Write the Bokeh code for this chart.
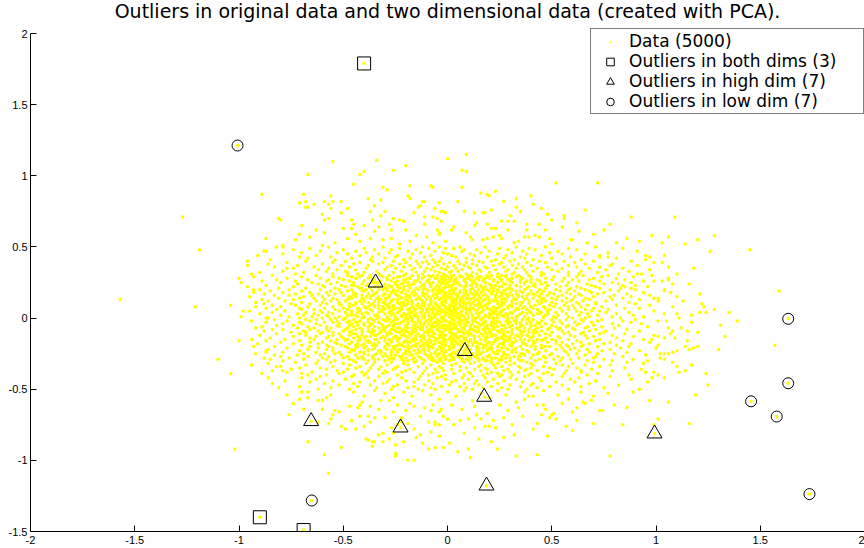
from bokeh.plotting import figure
from bokeh.models import FixedTicker, Legend, LegendItem, ColumnDataSource, Label
from bokeh.embed import file_html
from bokeh.resources import INLINE

# ---------------- data ----------------
# Cloud, row by row: y (hundredths) -> list of x (hundredths)
cloud_rows = {
    50: [-12, 33, -57, 6, -31, 71, -4, 18, -82, 47],
    49: [25, -40, -9, 58, -66, 3, -23, 39, -1, 84],
    48: [-35, 14, -74, 29, -15, 62, -50, 8, 42, -27],
    47: [7, -61, 36, -19, 91, -44, 20, -6, 53, -88],
    46: [-28, 49, -2, -70, 16, -39, 77, 31, -13, -53],
    45: [38, -17, -48, 11, 66, -79, 24, -33, 0, 55],
    44: [-63, 2, 28, -24, 45, -8, -91, 73, 13, -42],
    43: [19, -36, -11, 59, -56, 35, 4, -25, 97, -71],
    42: [-46, 27, -3, 81, -30, 9, -67, 50, -18, 37],
    41: [12, -54, 41, -21, 64, -7, 23, -85, 32, -37],
    40: [-15, 30, -49, 5, 70, -26, 15, -68, 44, -4, 88, -36, 21, -10, 56],
    39: [26, -42, -6, 61, -20, 9, -77, 38, 1, -31, 103, -55, 17, 47, -12],
    38: [-33, 12, -60, 34, -2, 79, -23, 52, -45, 6, -14, 25, -86, 66, -9],
    37: [40, -18, -51, 22, 3, -38, 91, -72, 14, -5, 58, 31, -27, -96, 8],
    36: [-7, 48, -29, 18, -64, 73, -13, 0, 36, -47, 27, -21, 62, -83, 10],
    35: [19, -39, 55, -10, 84, -57, 4, -25, 33, -3, 68, -74, 43, -16, 11],
    34: [-44, 23, -1, 50, -30, 7, -17, 97, -62, 37, -8, 15, -53, 76, 29],
    33: [5, -22, 64, -49, 28, -11, 41, -79, 16, -34, 2, 87, -6, 53, -58],
    32: [-26, 45, -69, 12, -4, 32, -40, 72, 20, -15, -90, 58, 1, 38, -48],
    31: [31, -12, 9, -55, 63, -33, 24, -2, 82, -20, 46, -73, 14, -43, 110],
    30: [-5, 21, -37, 58, 2, -63, 34, -17, 77, -28, 10, -48, 45, -9, 26, -84, 65, -21, 6, 39, -1, 98],
    29: [16, -42, 51, -14, 28, -70, 7, -31, 89, -3, 40, -55, 19, 62, -24, -8, 33, -93, 12, 74, -46, 0],
    28: [-19, 36, -52, 4, 70, -26, 14, -77, 47, -6, 25, -38, 106, -12, 56, -61, 9, 31, -2, -44, 81, 18],
    27: [29, -9, 60, -35, 11, -67, 43, -21, 1, 85, -50, 22, -3, 35, -82, 68, -29, 15, -14, 50, -57, 4],
    26: [-40, 8, 26, -16, 73, -58, 38, -2, 17, -32, 94, -73, 55, -10, 30, -47, 3, 63, -24, 12, -89, 44],
    25: [13, -53, 47, -7, 31, -25, 79, -65, 5, -36, 24, -13, 58, -4, 40, -80, 18, -45, 88, -19, 0, 35],
    24: [-30, 52, -11, 20, -72, 67, -41, 9, -1, 37, -56, 28, -22, 116, -8, 45, -34, 14, -62, 75, 3, -17],
    23: [41, -18, 6, -46, 30, -87, 57, -5, 16, -28, 84, -60, 23, -39, 2, 48, -12, 69, -51, 11, -24, 33],
    22: [-13, 26, -59, 62, -33, 9, -4, 42, -74, 18, -21, 96, -43, 35, 0, -96, 54, -27, 14, 71, -8, -49],
    21: [22, -37, 73, -15, 4, -54, 38, -23, 59, -68, 12, -6, 29, -41, 83, -2, 47, -30, 17, -81, 64, -11],
    20: [-3, 31, -46, 15, -21, 66, -61, 8, -33, 44, -10, 90, -76, 24, -14, 52, -39, 2, 37, -52, 78, -26, 11, -90, 58, -7, 19],
    19: [27, -16, 54, -41, 6, -70, 35, -5, 82, -29, 13, -56, 46, -19, 1, 68, -36, 22, -85, 40, -9, 61, -48, 17, -24, 104, -2],
    18: [-22, 43, -58, 11, 75, -34, 3, -12, 30, -66, 57, -4, 21, -45, 94, -27, 8, 49, -79, 16, -17, 36, -51, 69, -1, 26, -93],
    17: [9, -30, 63, -11, 39, -73, 18, -44, 1, 86, -20, 51, -62, 28, -6, 14, -38, 72, -15, 33, -88, 45, -25, 4, 59, -54, 121],
    16: [-41, 17, -7, 48, -65, 29, -24, 80, -2, 38, -50, 10, -16, 64, -83, 23, 55, -31, 5, -12, 42, -57, 97, -36, 13, -76, 31],
    15: [34, -14, 70, -47, 2, -28, 19, -69, 53, -5, 88, -39, 25, -19, 44, -95, 7, 61, -33, 15, -9, 36, -60, 78, -23, 0, -44],
    14: [-18, 50, -37, 12, -81, 41, -3, 23, -55, 66, -13, 101, -29, 4, 32, -64, 16, -8, 57, -46, 27, -22, 84, -71, 9, -34, 46],
    13: [20, -53, 37, -1, 60, -26, 11, -89, 45, -15, 6, -40, 79, -59, 28, -10, 52, -32, 14, -74, 68, -4, 33, -20, 92, -48, 3],
    12: [-8, 28, -63, 55, -35, 13, -19, 76, -49, 4, 39, -2, -27, 65, -78, 22, -12, 47, -42, 8, 113, -56, 31, -30, 17, -86, 59],
    11: [45, -24, 7, -70, 31, -11, 62, -44, 20, -1, 87, -33, 15, -60, 50, -17, 26, -92, 36, -6, 71, -52, 10, -38, 3, 57, -21],
    10: [-3, 27, -41, 8, -66, 15, -19, 52, -8, 33, -52, 71, -30, 2, -14, 44, -88, 19, -36, 90, -58, 11, -23, 39, 6, -47, 63, -11, 24, -75],
    9: [18, -29, 56, -12, 35, -73, 4, -45, 81, -20, 11, -5, 42, -61, 26, -37, 67, -15, 1, -84, 49, -26, 14, -51, 97, -9, 30, -33, 60, -2],
    8: [-17, 40, -55, 9, -31, 74, -7, 22, -92, 51, -40, 3, 31, -22, 64, -67, 16, -11, 46, -47, 108, -28, 6, 37, -1, -80, 58, -35, 25, -14],
    7: [33, -6, 61, -43, 15, -25, 85, -59, 1, 41, -13, 23, -71, 54, -33, 8, -18, 70, -50, 29, -4, 12, -87, 47, -39, 19, -9, 92, -28, 36],
    6: [-10, 21, -48, 49, -26, 4, -64, 34, -3, 77, -37, 13, -19, 58, -82, 27, -8, 43, -54, 9, 128, -31, 17, -43, 66, -15, 0, -70, 38, -22],
    5: [7, -36, 44, -16, 69, -52, 23, -5, 32, -78, 11, -27, 55, -42, 2, 99, -61, 17, -12, 39, -23, 73, -95, 26, -2, 48, -46, 14, -31, 62],
    4: [-24, 52, -9, 30, -57, 16, -39, 87, -1, 45, -68, 6, -17, 36, -33, 64, -84, 21, -7, 11, -49, 76, -28, 40, -13, 135, -60, 3, 25, -43],
    3: [38, -15, 9, -46, 67, -30, 20, -72, 48, -4, 28, -55, 81, -21, 1, -38, 57, -11, 14, -90, 35, -26, 104, -64, 23, -7, 44, -41, 5, -19],
    2: [-6, 29, -62, 15, -20, 53, -35, 3, 72, -48, 24, -12, 41, -80, 10, -1, 63, -27, 34, -58, 18, -16, 89, -44, 7, -34, 47, -69, 26, -9],
    1: [12, -43, 37, -8, 58, -25, 4, -65, 27, -14, 94, -52, 20, -3, 46, -33, 15, -76, 68, -18, 6, -40, 33, -99, 51, -22, 1, -57, 79, -11],
    0: [-2, 24, -34, 46, -71, 10, -17, 60, -49, 31, -7, 17, -60, 83, -25, 5, -41, 39, -12, 66, -86, 20, -29, 2, 52, -54, 14, -20, 111, -37],
    -1: [29, -19, 50, -56, 8, -31, 74, -9, 36, -45, 16, -68, 3, -24, 57, -2, 41, -83, 22, -14, 90, -38, 12, -50, 64, -28, 6, -63, 33, -5],
    -2: [-13, 39, -47, 18, -4, 65, -29, 7, -77, 45, -21, 28, -10, 84, -53, 13, -35, 54, -1, -66, 32, -17, 101, -42, 22, -8, 72, -94, 3, -26],
    -3: [21, -38, 5, 61, -16, 35, -59, 14, -27, 88, -6, 43, -48, 25, -71, 1, 51, -33, 10, -11, 69, -44, 30, -87, 40, -22, 117, -3, 17, -55],
    -4: [-7, 47, -25, 12, -52, 33, -15, 79, -40, 2, 23, -63, 55, -11, 38, -32, 8, -79, 63, -19, 15, -46, 93, -4, 29, -36, 6, -70, 44, -23],
    -5: [36, -12, 58, -43, 19, -1, 70, -28, 9, -61, 42, -20, 26, -82, 4, -37, 50, -8, 16, -53, 82, -16, 31, -31, 1, -74, 62, -47, 21, -5],
    -6: [-20, 13, -58, 40, -6, 67, -35, 24, -89, 52, -14, 3, 30, -45, 96, -26, 18, -3, 45, -67, 8, -38, 74, -10, 35, -52, 11, -29, 57, 0],
    -7: [4, -33, 49, -17, 28, -72, 15, -8, 60, -42, 37, -24, 80, -56, 7, -13, 43, -92, 22, -30, 11, 66, -48, 1, -19, 33, -64, 54, -2, 106],
    -8: [-27, 26, -5, 53, -49, 17, -36, 86, -12, 34, -66, 2, 42, -21, 12, -79, 61, -9, 22, -44, 71, -1, 39, -58, 8, -31, 48, -16, -84, 18],
    -9: [15, -46, 35, -10, 68, -30, 6, -57, 45, -4, 24, -22, 92, -69, 13, -38, 55, -15, 1, -50, 31, -7, 76, -35, 20, -88, 41, -25, 10, -62],
    -10: [-11, 43, -60, 20, -32, 75, -2, 29, -47, 9, -19, 58, -75, 36, 1, -28, 50, -41, 14, -9, 65, -55, 25, -16, 120, -37, 5, -68, 39, -23],
    -11: [31, -21, 8, -52, 47, -7, 64, -36, 16, -82, 27, -14, 41, -44, 3, 85, -27, 19, -61, 56, -3, 35, -33, 11, -71, 73, -17],
    -12: [-4, 22, -41, 59, -15, 10, -68, 38, -29, 79, -9, 27, -55, 3, 49, -22, 17, -90, 33, -35, 66, -1, 12, -47, 99, -18, 44],
    -13: [19, -57, 34, -11, 4, -37, 70, -25, 15, -3, 53, -74, 26, -43, 89, -8, 41, -20, 7, -63, 30, -31, 61, -13, 21, -51, 2],
    -14: [-32, 54, -6, 29, -50, 13, -19, 81, -66, 40, -2, 24, -40, 8, 67, -85, 18, -26, 47, -12, 35, -58, 5, 104, -23, 32, -45],
    -15: [8, -28, 46, -64, 23, -9, 73, -42, 1, 37, -17, 58, -34, 16, -78, 30, -5, 50, -48, 11, -24, 94, -15, 27, -53, 43, -2],
    -16: [-16, 33, -49, 6, 62, -24, 18, -71, 45, -6, 28, -39, 84, -13, 2, -56, 39, -30, 13, 71, -87, 23, -20, 52, -43, 9, 115],
    -17: [27, -38, 14, -4, 55, -60, 31, -21, 78, -12, 4, -46, 42, -27, 20, -80, 64, -8, 36, -33, 10, -54, 97, -18, 48, -1, -66],
    -18: [-9, 41, -29, 19, -53, 68, -15, 5, -40, 31, -74, 52, -23, 12, 88, -47, 26, -3, 60, -35, 15, -62, 36, -11, 2, 75, -91],
    -19: [12, -24, 57, -44, 30, -7, 81, -58, 21, -16, 3, 45, -36, 65, -70, 9, -28, 38, -2, 17, -51, 101, -19, 27, -41, 54, -12],
    -20: [-35, 18, -13, 49, -66, 35, -4, 24, -49, 72, -21, 7, 42, -30, 58, -83, 14, -9, 31, -57, 87, -17, 1, 47, -26, 64, -43],
    -21: [3, -48, 33, -19, 61, -35, 17, -7, 83, -62, 26, -26, 45, -11, 9, -77, 55, -40, 20, 100, -2, -55],
    -22: [-23, 42, -58, 14, -3, 67, -38, 29, -14, 52, -86, 6, 36, -29, 78, -46, 21, -9, 1, 59, -67, 116],
    -23: [15, -32, 56, -11, 24, -71, 38, -20, 74, -45, 8, -3, 47, -55, 31, -27, 92, -16, 19, -87, 63, -38],
    -24: [-6, 31, -42, 68, -24, 10, -63, 44, -13, 22, -52, 86, -32, 3, 57, -79, 27, -1, 39, -18, 108, -47],
    -25: [24, -15, 50, -54, 4, -30, 80, -40, 16, -8, 35, -69, 62, -21, 12, -92, 43, -34, 27, -4, 72, -59],
    -26: [-27, 9, -61, 37, -10, 58, -44, 20, -83, 49, -2, 29, -35, 95, -18, 5, -51, 66, -25, 14, 41, -72],
    -27: [35, -22, 13, -48, 71, -5, 26, -67, 46, -36, 2, -14, 84, -57, 19, -29, 53, -9, 32, -80, 10, -41],
    -28: [-13, 47, -36, 6, -76, 28, -20, 63, -50, 17, -3, 40, -88, 55, -26, 11, 102, -43, 23, -7, 70, -60],
    -29: [21, -40, 59, -17, 3, -58, 34, -28, 89, -8, 44, -69, 15, -47, 75, -1, 26, -33, 51, -85, 9, -22],
    -30: [-30, 15, -3, 54, -62, 25, -45, 79, -11, 36, -21, 7, 67, -79, 42, -38, 18, -54, 96, -15, 30, -6],
    -31: [8, -35, 47, -16, 70, -56, 21, -5, 38, -73, 13, -27, 86, -44, 28],
    -32: [-21, 40, -63, 11, -2, 60, -39, 24, -12, 94, -50, 32, -86, 52, 4],
    -33: [30, -8, 55, -47, 16, -29, 78, -68, 2, 41, -19, 66, -36, 22, -94],
    -34: [-14, 26, -55, 73, -32, 6, -80, 46, -4, 34, -24, 58, -42, 110, 15],
    -35: [18, -44, 62, -10, 35, -61, 9, -25, 85, -37, 49, -3, 23, -71, 40],
    -36: [-33, 13, -75, 51, -18, 29, -48, 69, -6, 38, -58, 2, 93, -26, 19],
    -37: [43, -20, 6, -53, 79, -38, 27, -11, 57, -84, 16, -30, 37, -2, 64],
    -38: [-5, 34, -41, 64, -65, 21, -16, 48, -29, 99, -50, 10, -77, 30, -22],
    -39: [24, -52, 11, -31, 56, -12, 40, -70, 3, 72, -39, 19, -89, 46, -7],
    -40: [-40, 31, -9, 67, -58, 17, -24, 50, -1, 87, -45, 26, -67, 8, 39],
    -41: [12, -33, 55, -61, 25, -13, 78, -46, 37, -3],
    -42: [-22, 44, -70, 18, -5, 63, -38, 30, -86, 7],
    -43: [33, -14, 59, -49, 10, -28, 88, -63, 22, -1],
    -44: [-9, 27, -55, 71, -35, 4, 45, -20, 14, -78],
    -45: [19, -42, 52, -16, 36, -66, 2, 96, -29, 61],
    -46: [-31, 8, -59, 41, -7, 68, -45, 24, -84, 13],
    -47: [40, -24, 15, -52, 82, -11, 30, -37, 55, 1],
    -48: [-16, 49, -71, 21, -3, 64, -43, 35, -26, 6],
    -49: [26, -56, 9, -34, 75, -19, 43, -81, 17, -8],
    -50: [-27, 38, -6, 58, -47, 12, -62, 29, -14, 92],
}

# Densest centre of the cloud: y (hundredths) -> list of x (hundredths)
cloud_centre = {
    30: [-14, 3, -32, 19, -7, 28, -41, 11], 29: [6, -23, 15, -2, -37, 24, -11, 35],
    28: [-29, 10, -5, 31, -18, 2, -44, 20], 27: [17, -36, -9, 8, 26, -20, 40, -1],
    26: [-4, 22, -27, 13, -47, 1, 30, -15], 25: [-21, 37, 4, -9, 18, -33, 9, -2],
    24: [12, -16, 27, -38, -3, 5, -25, 42], 23: [-8, 1, -30, 21, -19, 33, 14, -45],
    22: [25, -11, 8, -24, 39, -35, -1, 16], 21: [-18, 30, -6, 12, -42, 21, 2, -29],
    20: [3, -31, 17, -12, 28, -4, -21, 44], 19: [-26, 9, -40, 33, -7, 20, -16, 1],
    18: [14, -3, 36, -22, 6, -34, 24, -12], 17: [-35, 21, -10, 3, 41, -25, 12, -5],
    16: [8, -18, 26, -45, 15, -1, -28, 34], 15: [-2, 13, -20, 29, -37, 5, -11, 19],
    14: [23, -30, 1, -14, 38, -6, 10, -41], 13: [-13, 32, -24, 7, -1, 18, -33, 26],
    12: [2, -40, 15, -8, 24, -17, 43, -27], 11: [-22, 6, -3, 35, -31, 12, -12, 20],
    10: [16, -28, 27, -17, 4, -44, 9, -6], 9: [-9, 19, -35, 2, 31, -21, 13, -2],
    8: [29, -13, 7, -26, 17, -4, 40, -38], 7: [-30, 5, -16, 24, -1, 11, -23, 34],
    6: [10, -42, 20, -7, 33, -19, 3, -12], 5: [-18, 26, -4, 14, -32, 39, -10, 1],
    4: [4, -24, 36, -13, 9, -39, 22, -3], 3: [-11, 15, -27, 31, -5, 2, -18, 43],
    2: [21, -35, 6, -9, 27, -22, 12, -46], 1: [-6, 33, -15, 1, -29, 18, -40, 8],
    0: [13, -20, 29, -3, 5, -33, 22, -11], -1: [-25, 9, -8, 38, -17, 2, -36, 16],
    -2: [6, -14, 24, -30, 12, -1, 33, -21], -3: [-33, 18, -5, 9, -19, 29, -43, 1],
    -4: [17, -9, 35, -24, 3, -13, 21, -37], -5: [-2, 27, -16, 11, -40, 6, -26, 40],
    -6: [22, -31, 1, -12, 30, -20, 14, -7], -7: [-15, 8, -38, 19, -4, 34, -23, 3],
    -8: [31, -26, 11, -1, 20, -41, 5, -13], -9: [-20, 14, -8, 27, -32, 1, 37, -17],
    -10: [7, -36, 18, -10, 42, -3, -24, 25], -11: [-29, 2, 31, -18, 10, -45, 21, -6],
    -12: [12, -21, -2, 36, -12, 23, -34, 4], -13: [-7, 28, -39, 13, -25, 6, 39, -15],
    -14: [19, -4, 9, -30, 26, -16, 1, -42], -15: [-24, 35, -11, 3, 16, -35, 24, -1],
    -16: [4, -17, 29, -27, 11, -8, 41, -38], -17: [-37, 13, -3, 22, -19, 32, 7, -10],
    -18: [25, -29, 16, -6, 37, -43, 2, -14], -19: [-10, 6, -22, 30, -1, 18, -34, 10],
    -20: [14, -39, 24, -15, 3, 40, -8, -25], -21: [-3, 21, -30, 9, -18, 28, -44, 15],
    -22: [32, -12, 1, -25, 19, -5, 11, -36], -23: [-19, 10, 38, -33, 5, -9, 25, -1],
    -24: [8, -27, 17, -2, 33, -40, 14, -14], -25: [-32, 23, -11, 2, -20, 12, 36, -6],
    -26: [15, -5, 28, -38, 7, -17, 1, 41], -27: [-8, 34, -23, 11, -1, 20, -31, 5],
    -28: [21, -16, 3, -41, 14, 30, -9, -27], -29: [-26, 7, -12, 25, -35, 2, 17, -4],
    -30: [10, -30, 35, -7, 19, -19, 1, -45],
}

# Sparse outer points of the cloud, (x, y) in hundredths
cloud_tail = [
    (-55, 110), (-34, 111), (-20, 107), (0, 112), (9, 115), (-67, 101), (-42, 101), (-40, 103),
    (-26, 104), (7, 104), (9, 103), (-45, 94), (-18, 93), (-8, 93), (-7, 92), (-31, 92), (-29, 90),
    (7, 92), (52, 95), (72, 95), (16, 88), (19, 87), (20, 86), (23, 89), (-89, 87), (-69, 87),
    (-71, 81), (-68, 82), (-64, 80), (-56, 86), (-55, 82), (-51, 82), (-59, 82), (-38, 84), (-32, 83),
    (-35, 79), (-18, 84), (-19, 86), (-12, 82), (-11, 82), (-68, 78), (-67, 78), (5, 82), (27, 82),
    (33, 84), (33, 78), (40, 86), (41, 80), (-4, 81), (-6, 77), (-3, 75), (-1, 74), (8, 75), (13, 74),
    (17, 74), (18, 74), (21, 76), (45, 77), (56, 72), (56, 70), (109, 71), (-127, 71), (-81, 70),
    (-80, 69), (14, 67), (13, 65), (19, 66), (26, 68), (29, 68), (32, 68), (29, 62), (38, 66), (38, 62),
    (21, 63), (23, 63), (2, 62), (3, 64), (-5, 62), (-4, 60), (9, 60), (11, 57), (12, 55), (17, 55),
    (19, 56), (22, 57), (25, 58), (26, 56), (32, 53), (34, 54), (37, 57), (39, 57), (42, 58), (44, 57),
    (49, 56), (50, 52), (59, 55), (60, 55), (67, 53), (70, 59), (81, 53), (98, 58), (106, 57),
    (128, 58), (114, 52), (-57, 80), (-56, 77), (-60, 73), (-59, 69), (-57, 70), (-51, 74), (-48, 77),
    (-46, 69), (-46, 63), (-50, 63), (-45, 66), (-44, 59), (-40, 65), (-37, 75), (-36, 69), (-35, 61),
    (-33, 64), (-32, 72), (-30, 75), (-28, 66), (-27, 62), (-26, 70), (-23, 69), (-21, 68), (-20, 62),
    (-16, 74), (-14, 78), (-13, 79), (-11, 71), (-11, 66), (-7, 71), (-5, 70), (-3, 68), (-2, 75),
    (-4, 59), (-60, 51), (-54, 53), (-48, 56), (-42, 54), (-37, 56), (-31, 55), (-27, 56), (-23, 52),
    (-18, 54), (-15, 58), (-10, 57), (-7, 53), (-1, 54), (-59, 60), (-63, 62), (-70, 65), (-71, 59),
    (-87, 56), (-79, 51), (-73, 55), (-66, 57), (63, 61), (75, 62), (86, 56), (92, 54), (55, 64),
    (47, 62), (44, 66), (50, 69), (62, 67), (78, 66), (88, 71), (66, 76), (48, 73), (30, 72), (35, 75),
    (120, 55), (103, 53),
    (-119, 48), (-96, 40), (-87, 47), (-79, 50), (-100, 28), (-99, 25), (-94, 31), (-93, 20),
    (-157, 13), (-121, 8), (-104, 9), (-98, 5), (-110, -29), (-100, -16), (-104, -39), (-94, -15),
    (-93, -20), (-87, -24), (-82, -34), (-79, -37), (-87, 0), (-87, -3), (-77, 35),
    (126, 47), (145, 48), (159, 19), (139, -2), (157, -19), (133, -13), (130, -22), (122, 10),
    (123, 8), (121, 4), (124, 4), (131, -5), (118, 35), (104, 44), (106, 36), (95, 44), (95, 41),
    (99, 39), (93, 31), (91, 31), (99, 26), (103, 26), (106, 27), (108, 24), (104, 20), (107, 18),
    (110, 15), (99, 14), (101, 12), (110, 3), (117, 2), (105, -2), (112, -7), (115, -9), (108, -9),
    (107, -11), (109, -14), (101, -13), (98, -15), (120, -20), (118, -21), (114, -20), (110, -23),
    (106, -25), (104, -25), (102, -25), (104, -29), (108, -31), (117, -33), (111, -38), (114, -37),
    (104, -42), (101, -40), (98, -42), (95, -38), (82, 24), (85, 22), (88, 21), (90, 23), (78, 37),
    (73, 43), (77, 43),
    (-77, -54), (-76, -68), (-102, -92), (-67, -87), (-59, -96), (-57, -109), (-71, -57), (-69, -64),
    (-67, -52), (-67, -56), (-62, -58), (-60, -58), (-60, -64), (-62, -73), (-57, -74), (-56, -71),
    (-55, -68), (-54, -65), (-56, -54), (-58, -56), (-52, -66), (-51, -76), (-49, -78), (-51, -91),
    (-44, -78), (-42, -69), (-38, -69), (-35, -70), (-37, -73), (-39, -85), (-38, -86), (-36, -87),
    (-35, -87), (-36, -90), (-33, -82), (-31, -81), (-31, -87), (-28, -85), (-25, -89), (-25, -97),
    (-25, -95), (-19, -100), (-16, -100), (-27, -77), (-24, -75), (-22, -70), (-19, -74), (-15, -84),
    (-13, -82), (-9, -92), (-6, -91), (-2, -91), (1, -88), (-13, -69), (-9, -73), (-6, -73), (-2, -69),
    (-3, -64), (-8, -65), (-7, -61), (-47, -62), (-43, -63), (-41, -59), (-37, -62), (-32, -58),
    (-28, -58), (-24, -61), (-20, -65), (-16, -62),
    (5, -94), (10, -92), (11, -98), (21, -87), (24, -92), (32, -82), (33, -97), (43, -96), (78, -97),
    (60, -79), (57, -76), (41, -78), (36, -69), (43, -74), (51, -67), (49, -70), (73, -65), (65, -59),
    (84, -75), (86, -63), (97, -58), (101, -71), (106, -59), (116, -74), (119, -54), (125, -47),
    (124, -39), (-8, -80), (-6, -75), (-4, -75), (3, -75), (6, -72), (10, -71), (13, -77), (16, -71),
    (18, -76), (20, -76), (23, -77), (89, -52), (99, -75), (74, -65), (66, -60), (60, -66), (52, -71),
    (50, -68), (43, -61), (46, -61), (37, -57), (39, -55),
    (-45, -52), (-40, -55), (-35, -51), (-30, -53), (-26, -56), (-21, -52), (-17, -55), (-12, -51),
    (-8, -54), (-4, -57), (0, -52), (4, -55), (8, -51), (12, -58), (16, -53), (20, -56), (24, -51),
    (28, -54), (33, -59), (37, -52), (41, -55), (46, -51), (53, -54), (58, -57), (64, -52), (70, -55),
    (77, -53), (-42, -61), (-33, -64), (-26, -66), (-18, -60), (-11, -63), (-4, -66), (2, -61), (7, -64),
    (13, -62), (19, -67), (25, -61), (29, -65), (34, -63), (47, -64), (55, -60), (62, -63), (69, -58),
    (80, -61), (-30, -70), (-22, -73), (0, -71), (14, -68), (22, -72), (27, -70), (31, -75), (45, -68),
    (62, -72), (70, -74), (-46, -72), (-40, -76), (-16, -78), (-4, -83), (8, -81), (27, -84), (48, -83),
    (-26, -81), (-21, -87), (15, -85), (-12, -88), (-70, -52), (-74, -60),
]

# Outliers
both_x = [-0.40, -0.90, -0.69]
both_y = [1.79, -1.40, -1.49]
high_x = [-0.345, 0.083, 0.176, -0.225, -0.654, 0.993, 0.187]
high_y = [0.249, -0.232, -0.554, -0.770, -0.725, -0.812, -1.178]
low_x = [-1.007, 1.634, 1.634, 1.456, 1.579, 1.736, -0.651]
low_y = [1.213, -0.005, -0.458, -0.585, -0.692, -1.237, -1.282]

x_ticks = [-2, -1.5, -1, -0.5, 0, 0.5, 1, 1.5, 2]
y_ticks = [-1.5, -1, -0.5, 0, 0.5, 1, 1.5, 2]
tick_text = {-2: "-2", -1.5: "-1.5", -1: "-1", -0.5: "-0.5", 0: "0",
             0.5: "0.5", 1: "1", 1.5: "1.5", 2: "2"}

title_text = "Outliers in original data and two dimensional data (created with PCA)."
labels = ["Data (5000)", "Outliers in both dims (3)", "Outliers in high dim (7)", "Outliers in low dim (7)"]

# ---------------- build ----------------
data_x, data_y = [], []
for rows in (cloud_rows, cloud_centre):
    for y, xs in rows.items():
        data_x += [x / 100 for x in xs]
        data_y += [y / 100] * len(xs)
data_x += [p[0] / 100 for p in cloud_tail] + both_x + high_x + low_x
data_y += [p[1] / 100 for p in cloud_tail] + both_y + high_y + low_y

FONT = "Liberation Sans"
WIDE = "DejaVu Sans"

# the frame reaches the top of the canvas so the title can sit inside it;
# the y axis itself stops at 2
Y_TOP = 2 + 33 / 142
p = figure(width=864, height=548, x_range=(-2, 2), y_range=(-1.5, Y_TOP),
           output_backend="svg", toolbar_location=None,
           min_border_left=30, min_border_right=0, min_border_top=0, min_border_bottom=17)
p.outline_line_color = None
p.xgrid.visible = False
p.ygrid.visible = False
p.background_fill_color = "white"
p.border_fill_color = "white"

for ax, ticks in ((p.xaxis[0], x_ticks), (p.yaxis[0], y_ticks)):
    ax.ticker = FixedTicker(ticks=ticks)
    ax.major_label_overrides = {t: tick_text[t] for t in ticks}
    ax.major_tick_in = 6
    ax.major_tick_out = 0
    ax.minor_tick_in = 0
    ax.minor_tick_out = 0
    ax.axis_line_color = "black"
    ax.major_tick_line_color = "black"
    ax.major_label_text_font = FONT
    ax.major_label_text_font_size = "11px"
    ax.major_label_text_color = "black"
p.xaxis[0].major_label_standoff = 4
p.yaxis[0].major_label_standoff = 3
p.yaxis[0].bounds = (-1.5, 2)

src = ColumnDataSource(dict(x=data_x, y=data_y))
r_data = p.scatter("x", "y", source=src, marker="dot", size=14,
                   fill_color="#ffff00", line_color="#ffff00")
r_both = p.scatter(both_x, both_y, marker="square", size=13, fill_color=None,
                   line_color="black", line_width=1)
r_high = p.scatter(high_x, high_y, marker="triangle", size=15, fill_color=None,
                   line_color="black", line_width=1)
r_low = p.scatter(low_x, low_y, marker="circle", size=11, fill_color=None,
                  line_color="black", line_width=1)

legend = Legend(items=[LegendItem(label=labels[0], renderers=[r_data]),
                       LegendItem(label=labels[1], renderers=[r_both]),
                       LegendItem(label=labels[2], renderers=[r_high]),
                       LegendItem(label=labels[3], renderers=[r_low])],
                location=(560, 417))
legend.margin = 0
legend.padding = 2
legend.spacing = 0
legend.glyph_width = 34
legend.glyph_height = 19
legend.label_height = 19
legend.label_standoff = 2
legend.label_width = 232
legend.label_text_font = WIDE
legend.label_text_font_size = "17px"
legend.label_text_line_height = 1.0
legend.label_text_color = "black"
legend.border_line_color = "black"
legend.border_line_width = 1
legend.background_fill_alpha = 1.0
p.add_layout(legend)

title = Label(x=0, y=2, x_units="data", y_units="data", y_offset=23,
              text=title_text, text_align="center", text_baseline="middle",
              text_font=WIDE, text_font_size="19px", text_color="black")
p.add_layout(title)

open("out.html", "w").write(file_html(p, INLINE))
